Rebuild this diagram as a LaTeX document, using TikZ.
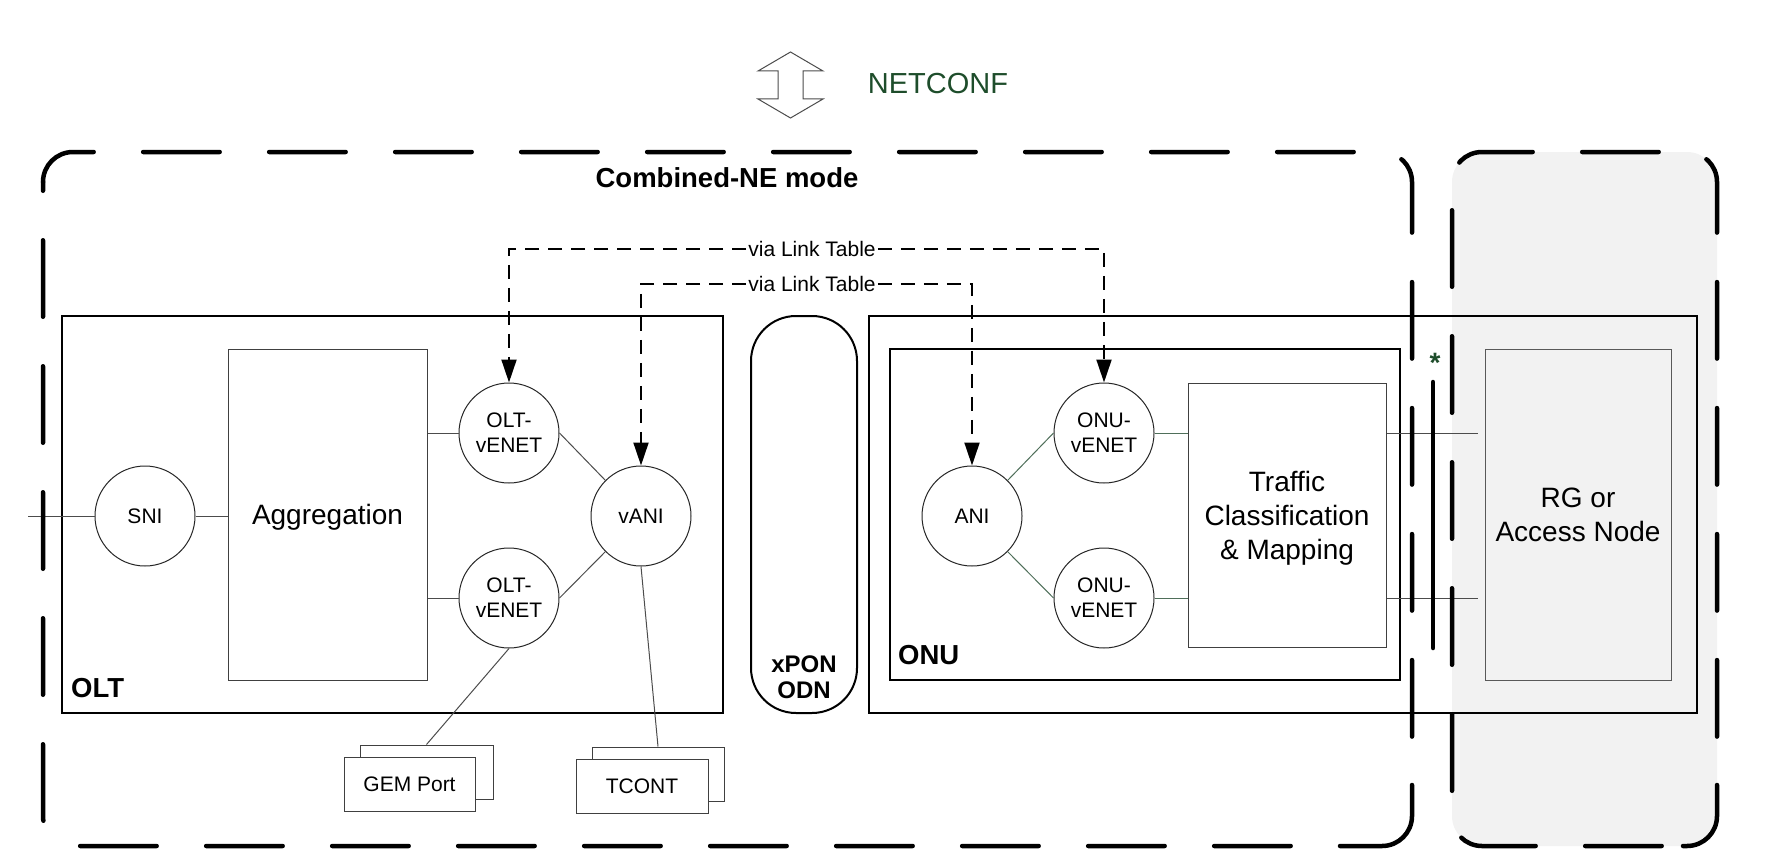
\documentclass[tikz,border=0pt]{standalone}
\usepackage{fontspec}
\setmainfont{Liberation Sans}
\usetikzlibrary{arrows.meta}
\definecolor{ngreen}{HTML}{1E4D2B}
\definecolor{rgfill}{HTML}{F2F2F2}
\definecolor{linkgreen}{HTML}{4F6F5A}
\begin{document}
\begin{tikzpicture}[x=1pt,y=-1pt,
  sfont/.style={font=\fontsize{21}{25}\selectfont},
  bfont/.style={font=\fontsize{28}{34}\selectfont},
  port/.style={circle,draw=black!85,line width=1pt,minimum size=100pt,inner sep=0pt,align=center,fill=white,sfont},
  heavybox/.style={draw=black,line width=2pt,inner sep=0pt},
  thinbox/.style={draw=black!75,line width=1pt,inner sep=0pt,fill=white},
  lnk/.style={draw=black!70,line width=1pt},
  glnk/.style={draw=linkgreen,line width=1pt},
  dashlink/.style={draw=black,line width=2pt,dash pattern=on 14pt off 9pt,-{Triangle[length=23pt,width=15pt]}},
  vialabel/.style={inner sep=2pt,sfont},
  outerdash/.style={draw=black,line width=4.5pt,line cap=round,dash pattern=on 76.5pt off 49.5pt,rounded corners=30pt},
  outercorner/.style={draw=black,line width=4.5pt,line cap=round,rounded corners=30pt},
  boldlbl/.style={font=\fontsize{27.5}{33}\selectfont\bfseries, anchor=base west, inner sep=0pt},
  ]
\useasboundingbox (0,0) rectangle (1768,864);

% RG background
\fill[rgfill, rounded corners=30pt] (1452,152) rectangle (1717,846);

% NETCONF arrow
\draw[line width=1pt, draw=black!70, fill=white] (790.5,52) -- (823,71) -- (803,71) -- (803,99) -- (823,99) -- (790.5,118) -- (758,99) -- (778,99) -- (778,71) -- (758,71) -- cycle;
\node[font=\fontsize{29}{34}\selectfont, text=ngreen] (netconf) at (938,84) {NETCONF};

\node[font=\fontsize{27.5}{33}\selectfont\bfseries] (cne) at (727,178) {Combined-NE mode};

% OLT side
\node[heavybox, minimum width=661pt, minimum height=397pt] (olt) at (392.5,514.5) {};
\node[boldlbl] (oltlbl) at (71,697) {OLT};
\node[thinbox, minimum width=199pt, minimum height=331pt, bfont, text depth=0pt] (agg) at (327.5,514.5) {Aggregation};
\node[port] (sni) at (145,516) {SNI};
\node[port] (ov1) at (509,433) {OLT-\\vENET};
\node[port] (ov2) at (509,598) {OLT-\\vENET};
\node[port] (vani) at (641,516) {vANI};

\node[thinbox, minimum width=133pt, minimum height=54pt] (gemb) at (426.5,772) {};
\node[thinbox, minimum width=131pt, minimum height=54pt, sfont] (gemf) at (409.5,784) {GEM Port};
\node[thinbox, minimum width=132pt, minimum height=54pt] (tcb) at (658,774) {};
\node[thinbox, minimum width=132pt, minimum height=54pt, sfont] (tcf) at (642,786) {TCONT};

\coordinate (snin) at (28,516);
\draw[lnk] (snin) -- (sni.west);
\draw[lnk] (sni.east) -- (sni.east -| agg.west);
\draw[lnk] (ov1.west -| agg.east) -- (ov1.west);
\draw[lnk] (ov2.west -| agg.east) -- (ov2.west);
\draw[lnk] (ov1.east) -- (vani.north west);
\draw[lnk] (ov2.east) -- (vani.south west);
\draw[lnk] (ov2.south) -- (gemb.north);
\draw[lnk] (vani.south) -- (tcb.north);

% xPON ODN
\node[heavybox, rounded corners=45pt, minimum width=106pt, minimum height=397pt] (odn) at (804,514.5) {};
\node[font=\fontsize{24}{26}\selectfont\bfseries, align=center] (odnlbl) at (804,677) {xPON\\ODN};

% ONU side
\node[heavybox, minimum width=828pt, minimum height=397pt] (onuo) at (1283,514.5) {};
\node[heavybox, minimum width=510pt, minimum height=331pt, fill=white] (onui) at (1145,514.5) {};
\node[boldlbl] (onulbl) at (898,664) {ONU};
\node[port] (ani) at (972,516) {ANI};
\node[port] (onv1) at (1104,433) {ONU-\\vENET};
\node[port] (onv2) at (1104,598) {ONU-\\vENET};
\node[thinbox, minimum width=198pt, minimum height=264pt, bfont, align=center, text depth=0pt] (tcm) at (1287,515) {Traffic\\Classification\\\& Mapping};
\node[draw=black!65, line width=1pt, inner sep=0pt, minimum width=186pt, minimum height=331pt, bfont, align=center] (rg) at (1578,514.5) {RG or\\Access Node};

\draw[glnk] (ani.north east) -- (onv1.west);
\draw[glnk] (ani.south east) -- (onv2.west);
\draw[glnk] (onv1.east) -- (onv1.east -| tcm.west);
\draw[glnk] (onv2.east) -- (onv2.east -| tcm.west);
\draw[lnk, shorten >=7pt] (onv1.east -| tcm.east) -- (onv1.east -| rg.west);
\draw[lnk, shorten >=7pt] (onv2.east -| tcm.east) -- (onv2.east -| rg.west);

% via link table
\node[vialabel] (via1) at (812,249) {via Link Table};
\node[vialabel] (via2) at (812,284) {via Link Table};
\draw[dashlink] (via1.west) -| (ov1.north);
\draw[dashlink] (via1.east) -| (onv1.north);
\draw[dashlink] (via2.west) -| (vani.north);
\draw[dashlink] (via2.east) -| (ani.north);

% dashed outline: Combined-NE
\draw[outerdash, dash phase=8.75pt] (43,182) -- (43,152) -- (1412,152) -- (1412,745);
\draw[outerdash, dash phase=67.75pt] (43,182) -- (43,846) -- (1320,846);
\draw[outercorner] (1340,846) -- (1412,846) -- (1412,785);
% dashed outline: RG
\draw[outerdash, dash phase=86.75pt] (1452,200) -- (1452,152) -- (1717,152) -- (1717,745);
\draw[outerdash, dash phase=115.75pt] (1452,200) -- (1452,846) -- (1670,846);
\draw[outercorner] (1683,846) -- (1717,846) -- (1717,785);

% interface marker
\coordinate (ifa) at (1433,382);
\coordinate (ifb) at (1433,648);
\draw[line width=4.5pt, line cap=round] (ifa) -- (ifb);
\node[font=\fontsize{28}{30}\selectfont\bfseries, text=ngreen, anchor=base, inner sep=0pt] (star) at (1435,372) {*};
\end{tikzpicture}
\end{document}
